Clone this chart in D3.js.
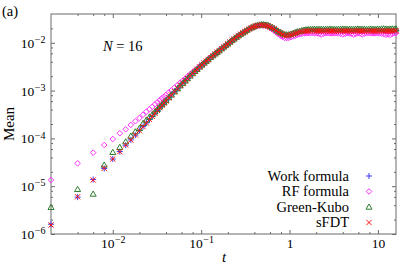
<!DOCTYPE html>
<html>
<head>
<meta charset="utf-8">
<script src="https://cdn.jsdelivr.net/npm/d3@7"></script>
<style>
  body { margin: 0; background: #fff; }
  svg { display: block; }
  svg text, svg tspan { font-family: "Liberation Serif", "DejaVu Serif", serif; fill: #000; }
</style>
</head>
<body>
<div id="chart"></div>
<script>
// sample times t
const times = [
  0.002, 0.004, 0.006, 0.008, 0.010, 0.012, 0.014, 0.016, 0.018, 0.020,
  0.022, 0.024, 0.026, 0.028, 0.030, 0.032, 0.034, 0.036, 0.038, 0.040,
  0.043, 0.046, 0.050, 0.054, 0.058, 0.062, 0.066, 0.070, 0.075, 0.080, 0.085, 0.090, 0.096,
  0.102, 0.108, 0.114, 0.120, 0.128, 0.136, 0.144, 0.152, 0.160, 0.170, 0.180, 0.190, 0.200,
  0.212, 0.224, 0.236, 0.250, 0.264, 0.280, 0.296, 0.312, 0.330, 0.350, 0.370, 0.390, 0.410,
  0.434, 0.458, 0.484, 0.510, 0.540, 0.570, 0.600, 0.634, 0.670, 0.710, 0.750, 0.790, 0.834,
  0.880, 0.930, 0.980,
  1.04, 1.10, 1.16, 1.22, 1.30, 1.38, 1.46, 1.54, 1.62, 1.72, 1.82, 1.92, 2.04, 2.16, 2.28,
  2.42, 2.56, 2.70, 2.86, 3.02, 3.20, 3.38, 3.58, 3.78, 4.00, 4.24, 4.48, 4.74, 5.00, 5.30,
  5.60, 5.92, 6.26, 6.62, 7.00, 7.40, 7.84, 8.30, 8.78, 9.28, 9.82, 10.38, 10.98, 11.60, 12.28,
  13.00, 13.74, 14.52, 15.36, 16.00
]

const workFormula = [
  1.6e-6, 5.9e-6, 1.38e-5, 2.35e-5, 3.70e-5, 5.30e-5, 7.20e-5, 9.30e-5, 1.17e-4, 1.46e-4,
  1.76e-4, 2.10e-4, 2.48e-4, 2.89e-4, 3.36e-4, 3.83e-4, 4.39e-4, 4.93e-4, 5.48e-4, 6.09e-4,
  7.07e-4, 8.09e-4, 9.48e-4, 1.10e-3, 1.27e-3, 1.43e-3, 1.60e-3, 1.79e-3, 2.04e-3, 2.28e-3, 2.53e-3, 2.79e-3, 3.13e-3,
  3.45e-3, 3.78e-3, 4.12e-3, 4.47e-3, 4.95e-3, 5.40e-3, 5.89e-3, 6.36e-3, 6.87e-3, 7.53e-3, 8.17e-3, 8.82e-3, 9.53e-3,
  1.04e-2, 1.13e-2, 1.21e-2, 1.31e-2, 1.41e-2, 1.52e-2, 1.62e-2, 1.72e-2, 1.83e-2, 1.95e-2, 2.05e-2, 2.13e-2, 2.22e-2,
  2.28e-2, 2.31e-2, 2.35e-2, 2.32e-2, 2.29e-2, 2.25e-2, 2.14e-2, 2.04e-2, 1.94e-2, 1.80e-2, 1.67e-2, 1.58e-2, 1.50e-2,
  1.42e-2, 1.41e-2, 1.42e-2,
  1.46e-2, 1.51e-2, 1.57e-2, 1.62e-2, 1.67e-2, 1.71e-2, 1.74e-2, 1.76e-2, 1.77e-2, 1.78e-2, 1.79e-2, 1.78e-2, 1.77e-2, 1.76e-2, 1.76e-2,
  1.75e-2, 1.76e-2, 1.77e-2, 1.77e-2, 1.76e-2, 1.75e-2, 1.75e-2, 1.76e-2, 1.77e-2, 1.78e-2, 1.77e-2, 1.76e-2, 1.75e-2, 1.76e-2, 1.76e-2,
  1.77e-2, 1.78e-2, 1.77e-2, 1.76e-2, 1.76e-2, 1.75e-2, 1.76e-2, 1.77e-2, 1.76e-2, 1.75e-2, 1.76e-2, 1.77e-2, 1.78e-2, 1.77e-2, 1.76e-2,
  1.75e-2, 1.76e-2, 1.77e-2, 1.78e-2, 1.79e-2
]

const rfFormula = [
  1.35e-5, 3.01e-5, 5.02e-5, 7.28e-5, 9.70e-5, 1.28e-4, 1.55e-4, 1.91e-4, 2.28e-4, 2.67e-4,
  3.13e-4, 3.62e-4, 4.06e-4, 4.59e-4, 5.18e-4, 5.72e-4, 6.33e-4, 6.90e-4, 7.53e-4, 8.13e-4,
  9.13e-4, 1.01e-3, 1.16e-3, 1.31e-3, 1.46e-3, 1.62e-3, 1.78e-3, 1.96e-3, 2.19e-3, 2.41e-3, 2.66e-3, 2.90e-3, 3.22e-3,
  3.52e-3, 3.83e-3, 4.16e-3, 4.48e-3, 4.95e-3, 5.40e-3, 5.89e-3, 6.36e-3, 6.87e-3, 7.53e-3, 8.17e-3, 8.82e-3, 9.53e-3,
  1.04e-2, 1.13e-2, 1.21e-2, 1.31e-2, 1.41e-2, 1.52e-2, 1.62e-2, 1.72e-2, 1.83e-2, 1.95e-2, 2.05e-2, 2.13e-2, 2.22e-2,
  2.28e-2, 2.31e-2, 2.34e-2, 2.31e-2, 2.27e-2, 2.22e-2, 2.06e-2, 1.92e-2, 1.78e-2, 1.64e-2, 1.51e-2, 1.41e-2, 1.32e-2,
  1.26e-2, 1.26e-2, 1.27e-2,
  1.31e-2, 1.36e-2, 1.41e-2, 1.46e-2, 1.51e-2, 1.54e-2, 1.57e-2, 1.58e-2, 1.59e-2, 1.58e-2, 1.59e-2, 1.58e-2, 1.57e-2, 1.55e-2, 1.49e-2,
  1.54e-2, 1.58e-2, 1.59e-2, 1.58e-2, 1.57e-2, 1.58e-2, 1.58e-2, 1.57e-2, 1.55e-2, 1.50e-2, 1.55e-2, 1.58e-2, 1.57e-2, 1.54e-2, 1.48e-2,
  1.54e-2, 1.58e-2, 1.56e-2, 1.50e-2, 1.55e-2, 1.58e-2, 1.59e-2, 1.58e-2, 1.57e-2, 1.58e-2, 1.59e-2, 1.58e-2, 1.56e-2, 1.52e-2, 1.47e-2,
  1.50e-2, 1.46e-2, 1.54e-2, 1.58e-2, 1.60e-2
]

const greenKubo = [
  3.62e-6, 8.6e-6, 6.87e-6, 2.78e-5, 5.12e-5, 6.52e-5, 8.53e-5, 1.12e-4, 1.38e-4, 1.62e-4,
  2.07e-4, 2.43e-4, 2.80e-4, 3.18e-4, 3.61e-4, 4.06e-4, 4.61e-4, 5.12e-4, 5.64e-4, 6.24e-4,
  7.17e-4, 8.17e-4, 9.50e-4, 1.10e-3, 1.27e-3, 1.43e-3, 1.60e-3, 1.79e-3, 2.04e-3, 2.28e-3, 2.53e-3, 2.79e-3, 3.13e-3,
  3.45e-3, 3.78e-3, 4.12e-3, 4.47e-3, 4.95e-3, 5.40e-3, 5.89e-3, 6.36e-3, 6.87e-3, 7.53e-3, 8.17e-3, 8.82e-3, 9.53e-3,
  1.04e-2, 1.13e-2, 1.21e-2, 1.31e-2, 1.41e-2, 1.52e-2, 1.62e-2, 1.72e-2, 1.84e-2, 1.97e-2, 2.08e-2, 2.17e-2, 2.27e-2,
  2.34e-2, 2.38e-2, 2.42e-2, 2.41e-2, 2.37e-2, 2.33e-2, 2.23e-2, 2.12e-2, 2.01e-2, 1.87e-2, 1.74e-2, 1.65e-2, 1.57e-2,
  1.49e-2, 1.48e-2, 1.49e-2,
  1.53e-2, 1.59e-2, 1.65e-2, 1.71e-2, 1.76e-2, 1.81e-2, 1.85e-2, 1.88e-2, 1.90e-2, 1.92e-2, 1.93e-2, 1.93e-2, 1.92e-2, 1.92e-2, 1.93e-2,
  1.93e-2, 1.92e-2, 1.93e-2, 1.94e-2, 1.93e-2, 1.92e-2, 1.92e-2, 1.93e-2, 1.94e-2, 1.95e-2, 1.94e-2, 1.93e-2, 1.92e-2, 1.93e-2, 1.93e-2,
  1.94e-2, 1.95e-2, 1.94e-2, 1.93e-2, 1.93e-2, 1.92e-2, 1.93e-2, 1.94e-2, 1.93e-2, 1.92e-2, 1.93e-2, 1.94e-2, 1.96e-2, 1.97e-2, 1.95e-2,
  1.94e-2, 1.95e-2, 1.96e-2, 1.95e-2, 1.96e-2
]

const sFDT = [
  1.54e-6, 6.0e-6, 1.35e-5, 2.37e-5, 3.71e-5, 5.27e-5, 7.28e-5, 9.27e-5, 1.18e-4, 1.45e-4,
  1.76e-4, 2.10e-4, 2.48e-4, 2.89e-4, 3.36e-4, 3.83e-4, 4.39e-4, 4.93e-4, 5.48e-4, 6.09e-4,
  7.07e-4, 8.09e-4, 9.48e-4, 1.10e-3, 1.27e-3, 1.43e-3, 1.60e-3, 1.79e-3, 2.04e-3, 2.28e-3, 2.53e-3, 2.79e-3, 3.13e-3,
  3.45e-3, 3.78e-3, 4.12e-3, 4.47e-3, 4.95e-3, 5.40e-3, 5.89e-3, 6.36e-3, 6.87e-3, 7.53e-3, 8.17e-3, 8.82e-3, 9.53e-3,
  1.04e-2, 1.13e-2, 1.21e-2, 1.31e-2, 1.41e-2, 1.52e-2, 1.62e-2, 1.72e-2, 1.83e-2, 1.95e-2, 2.05e-2, 2.13e-2, 2.22e-2,
  2.28e-2, 2.31e-2, 2.35e-2, 2.32e-2, 2.29e-2, 2.25e-2, 2.14e-2, 2.04e-2, 1.94e-2, 1.80e-2, 1.67e-2, 1.58e-2, 1.50e-2,
  1.42e-2, 1.41e-2, 1.42e-2,
  1.46e-2, 1.51e-2, 1.57e-2, 1.62e-2, 1.67e-2, 1.71e-2, 1.74e-2, 1.76e-2, 1.77e-2, 1.78e-2, 1.79e-2, 1.78e-2, 1.77e-2, 1.76e-2, 1.76e-2,
  1.75e-2, 1.76e-2, 1.77e-2, 1.77e-2, 1.76e-2, 1.75e-2, 1.75e-2, 1.76e-2, 1.77e-2, 1.78e-2, 1.77e-2, 1.76e-2, 1.75e-2, 1.76e-2, 1.76e-2,
  1.77e-2, 1.78e-2, 1.77e-2, 1.76e-2, 1.76e-2, 1.75e-2, 1.76e-2, 1.77e-2, 1.76e-2, 1.75e-2, 1.76e-2, 1.77e-2, 1.78e-2, 1.77e-2, 1.76e-2,
  1.75e-2, 1.76e-2, 1.77e-2, 1.78e-2, 1.79e-2
]

const xTicks = [1e-2, 1e-1, 1, 10]
const yTicks = [1e-6, 1e-5, 1e-4, 1e-3, 1e-2]
const legendNames = ["Work formula", "RF formula", "Green-Kubo", "sFDT"]

const size = [416, 267]
const margin = ({top: 14, right: 20, bottom: 33, left: 51})
const axisColor = "#6a6a6a"
const serif = "'Liberation Serif', 'DejaVu Serif', serif"

const svg = d3.select("#chart").append("svg")
  .attr("width", size[0])
  .attr("height", size[1])
  .attr("font-family", serif)

const scaleX = d3.scaleLog()
  .domain([0.002, 16])
  .range([margin.left, size[0] - margin.right])

const scaleY = d3.scaleLog()
  .domain([1e-6, 0.04])
  .range([size[1] - margin.bottom, margin.top])

// minor ticks at 2,4,6,8 of each decade
const minorTicks = (scale) => {
  const [a, b] = scale.domain()
  const out = []
  for (let e = Math.floor(Math.log10(a)); e <= Math.ceil(Math.log10(b)); e++)
    for (const m of [2, 4, 6, 8]) {
      const v = m * Math.pow(10, e)
      if (v > a && v < b) out.push(v)
    }
  return out
}

function powLabel(text, d) {
  const e = Math.round(Math.log10(d))
  text.text(null)
  if (e === 0) text.text("1")
  else if (e === 1) text.text("10")
  else {
    text.append("tspan").text("10")
    text.append("tspan").attr("dx", 0.5).attr("dy", "-0.48em").attr("font-size", 10).text("\u2212" + (-e))
  }
}

const styleAxis = g => {
  g.attr("font-family", serif).attr("font-size", null)
  g.select(".domain").remove()
  g.selectAll(".tick line").attr("stroke", axisColor)
}

const x0 = margin.left, x1 = size[0] - margin.right
const y0 = size[1] - margin.bottom, y1 = margin.top

// bottom axis with labels
svg.append("g")
  .attr("transform", `translate(0,${y0})`)
  .call(d3.axisBottom(scaleX).tickValues(xTicks).tickSize(-4).tickFormat(""))
  .call(styleAxis)
  .call(g => g.selectAll(".tick text")
    .attr("y", 14).attr("dy", 0)
    .attr("font-size", 13.5)
    .attr("font-family", serif)
    .each(function(d) { powLabel(d3.select(this), d) }))
svg.append("g")
  .attr("transform", `translate(0,${y0})`)
  .call(d3.axisBottom(scaleX).tickValues(minorTicks(scaleX)).tickSize(-2).tickFormat(""))
  .call(styleAxis)

// top axis (mirror)
svg.append("g")
  .attr("transform", `translate(0,${y1})`)
  .call(d3.axisTop(scaleX).tickValues(xTicks).tickSize(-4).tickFormat(""))
  .call(styleAxis)
svg.append("g")
  .attr("transform", `translate(0,${y1})`)
  .call(d3.axisTop(scaleX).tickValues(minorTicks(scaleX)).tickSize(-2).tickFormat(""))
  .call(styleAxis)

// left axis with labels
svg.append("g")
  .attr("transform", `translate(${x0},0)`)
  .call(d3.axisLeft(scaleY).tickValues(yTicks).tickSize(-4).tickFormat(""))
  .call(styleAxis)
  .call(g => g.selectAll(".tick text")
    .attr("x", -5.5).attr("dy", "0.34em")
    .attr("font-size", 13.5)
    .attr("font-family", serif)
    .attr("text-anchor", "end")
    .each(function(d) { powLabel(d3.select(this), d) }))
svg.append("g")
  .attr("transform", `translate(${x0},0)`)
  .call(d3.axisLeft(scaleY).tickValues(minorTicks(scaleY)).tickSize(-2).tickFormat(""))
  .call(styleAxis)

// right axis (mirror)
svg.append("g")
  .attr("transform", `translate(${x1},0)`)
  .call(d3.axisRight(scaleY).tickValues(yTicks).tickSize(-4).tickFormat(""))
  .call(styleAxis)
svg.append("g")
  .attr("transform", `translate(${x1},0)`)
  .call(d3.axisRight(scaleY).tickValues(minorTicks(scaleY)).tickSize(-2).tickFormat(""))
  .call(styleAxis)

// frame
svg.append("rect")
  .attr("x", x0).attr("y", y1)
  .attr("width", x1 - x0).attr("height", y0 - y1)
  .attr("fill", "none")
  .attr("stroke", axisColor)
  .attr("stroke-width", 1)

// marker shapes
const markers = {
  plus: "M-3,0H3M0,-3V3",
  diamond: "M0,-2.8L2.8,0L0,2.8L-2.8,0Z",
  triangle: "M0,-3L3,2.2L-3,2.2Z",
  cross: "M-2.6,-2.6L2.6,2.6M-2.6,2.6L2.6,-2.6"
}

const seriesList = [
  {name: legendNames[0], values: workFormula, shape: "plus", color: "#3c3cf0"},
  {name: legendNames[1], values: rfFormula, shape: "diamond", color: "#ff33ff"},
  {name: legendNames[2], values: greenKubo, shape: "triangle", color: "#2f7d2f"},
  {name: legendNames[3], values: sFDT, shape: "cross", color: "#ff1010"}
]

const plot = svg.append("g")
  .attr("fill", "none")
  .attr("stroke-width", 1)

for (const s of seriesList) {
  plot.append("g")
    .attr("stroke", s.color)
    .selectAll("path")
    .data(times.map((t, i) => [t, s.values[i]]))
    .join("path")
      .attr("transform", d => `translate(${scaleX(d[0])},${scaleY(d[1])})`)
      .attr("d", markers[s.shape])
}

// legend
const legend = svg.append("g")
seriesList.forEach((s, i) => {
  const by = 180.5 + i * 15.5
  legend.append("text")
    .attr("x", 349)
    .attr("y", by)
    .attr("text-anchor", "end")
    .attr("font-size", 14.5)
    .text(s.name)
  legend.append("path")
    .attr("transform", `translate(369,${by - 4.5})`)
    .attr("d", markers[s.shape])
    .attr("fill", "none")
    .attr("stroke", s.color)
})

// annotations
svg.append("text")
  .attr("x", 2).attr("y", 16)
  .attr("font-size", 14.5)
  .text("(a)")

const nLabel = svg.append("text")
  .attr("x", 103).attr("y", 50.5)
  .attr("font-size", 14.5)
nLabel.append("tspan").attr("font-style", "italic").text("N")
nLabel.append("tspan").text(" = 16")

svg.append("text")
  .attr("x", (x0 + x1) / 2 + 0.5).attr("y", 262)
  .attr("text-anchor", "middle")
  .attr("font-size", 15)
  .attr("font-style", "italic")
  .text("t")

svg.append("text")
  .attr("transform", `translate(14,124) rotate(-90)`)
  .attr("text-anchor", "middle")
  .attr("font-size", 15)
  .text("Mean")
</script>
</body>
</html>
